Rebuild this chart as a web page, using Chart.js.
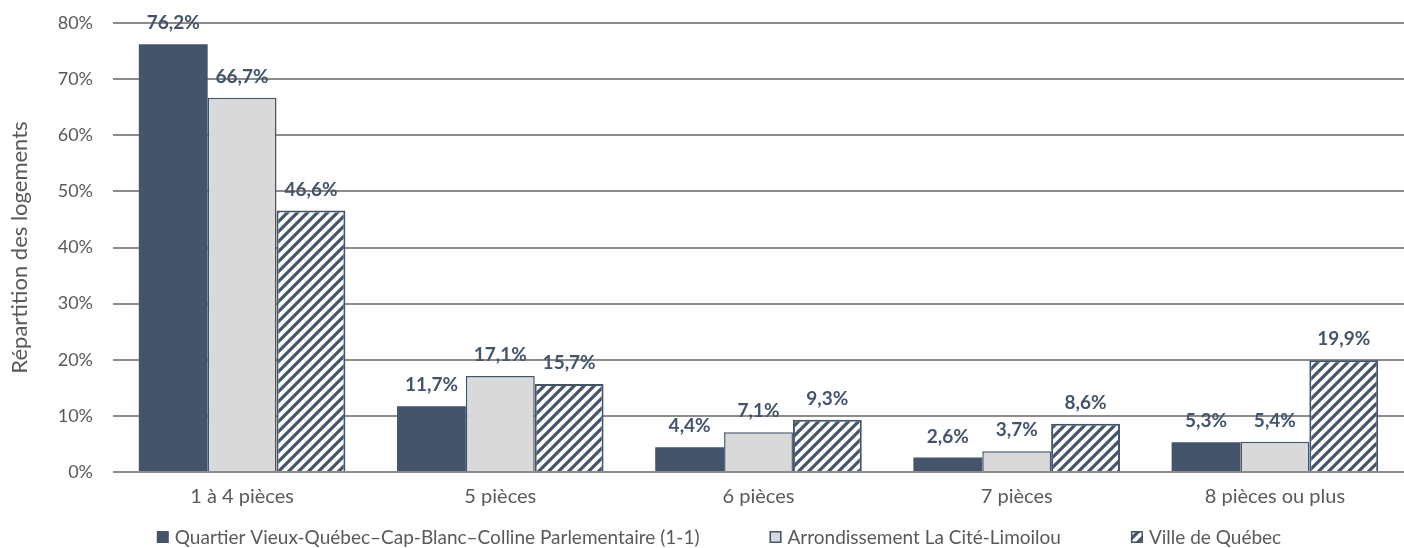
<!DOCTYPE html>
<html lang="fr">
<head>
<meta charset="utf-8">
<script src="https://cdn.jsdelivr.net/npm/chart.js@4.4.1/dist/chart.umd.min.js"></script>
<style>
  html, body { margin: 0; padding: 0; background: #fff; }
  .wrap { width: 1404px; height: 548px; position: relative; }
</style>
</head>
<body>
<div class="wrap"><canvas id="chart"></canvas></div>
<script>
// ---- data ----
const categories = ['1 à 4 pièces', '5 pièces', '6 pièces', '7 pièces', '8 pièces ou plus'];
const seriesNames = [
  'Quartier Vieux-Québec–Cap-Blanc–Colline Parlementaire (1-1)',
  'Arrondissement La Cité-Limoilou',
  'Ville de Québec',
];
const quartier = [76.2, 11.7, 4.4, 2.6, 5.3];
const arrondissement = [66.7, 17.1, 7.1, 3.7, 5.4];
const ville = [46.6, 15.7, 9.3, 8.6, 19.9];
const yTicks = [0, 10, 20, 30, 40, 50, 60, 70, 80];

const DARK = '#44546a';
const GREY = '#d9d9d9';
const TEXT = '#595959';
const FONT = 'Lato, "Open Sans", sans-serif';

// diagonal "/" hatch, dark on white
function hatch() {
  const s = 10;
  const c = document.createElement('canvas');
  c.width = s; c.height = s;
  const g = c.getContext('2d');
  g.fillStyle = '#fff';
  g.fillRect(0, 0, s, s);
  g.strokeStyle = DARK;
  g.lineWidth = 3.2;
  g.beginPath();
  g.moveTo(-2, s + 2); g.lineTo(s + 2, -2);
  g.moveTo(-2, 2); g.lineTo(2, -2);
  g.moveTo(s - 2, s + 2); g.lineTo(s + 2, s - 2);
  g.stroke();
  return g.createPattern(c, 'repeat');
}
const hatchFill = hatch();

const fmt = v => v.toFixed(1).replace('.', ',') + '%';

// value labels above every bar
const valueLabels = {
  id: 'valueLabels',
  afterDatasetsDraw(chart) {
    const ctx = chart.ctx;
    ctx.save();
    ctx.font = 'bold 19px ' + FONT;
    ctx.fillStyle = DARK;
    ctx.textAlign = 'center';
    ctx.textBaseline = 'middle';
    chart.data.datasets.forEach((ds, i) => {
      chart.getDatasetMeta(i).data.forEach((bar, j) => {
        ctx.fillText(fmt(ds.data[j]), bar.x, bar.y - 21);
      });
    });
    ctx.restore();
  },
};

// legend drawn by hand so the gap between entries can be wide
const bottomLegend = {
  id: 'bottomLegend',
  afterDraw(chart) {
    const ctx = chart.ctx;
    const box = 12, gapText = 6, gapItem = 70, y = 537;
    ctx.save();
    ctx.font = '19px ' + FONT;
    ctx.textBaseline = 'middle';
    const items = chart.data.datasets.map(ds => ({ ds, w: box + gapText + ctx.measureText(ds.label).width }));
    const total = items.reduce((a, it) => a + it.w, 0) + gapItem * (items.length - 1);
    let x = 719 - total / 2;
    items.forEach(({ ds, w }) => {
      ctx.fillStyle = ds.backgroundColor;
      ctx.fillRect(x, y - box / 2, box, box);
      if (ds.borderWidth) {
        ctx.strokeStyle = DARK;
        ctx.lineWidth = 1.5;
        ctx.strokeRect(x + 0.75, y - box / 2 + 0.75, box - 1.5, box - 1.5);
      }
      ctx.fillStyle = TEXT;
      ctx.fillText(ds.label, x + box + gapText, y + 1);
      x += w + gapItem;
    });
    ctx.restore();
  },
};

new Chart(document.getElementById('chart'), {
  type: 'bar',
  data: {
    labels: categories,
    datasets: [
      { label: seriesNames[0], data: quartier, backgroundColor: DARK, borderWidth: 0 },
      { label: seriesNames[1], data: arrondissement, backgroundColor: GREY, borderColor: DARK, borderWidth: 1.5 },
      { label: seriesNames[2], data: ville, backgroundColor: hatchFill, borderColor: DARK, borderWidth: 2 },
    ],
  },
  options: {
    responsive: true,
    maintainAspectRatio: false,
    animation: false,
    layout: { padding: { top: 23, right: 0, bottom: 34, left: 0 } },
    datasets: { bar: { categoryPercentage: 0.8, barPercentage: 1.0 } },
    plugins: {
      legend: { display: false },
      tooltip: { enabled: false },
    },
    scales: {
      x: {
        grid: { display: false },
        border: { display: false },
        ticks: { color: TEXT, font: { family: FONT, size: 20 }, padding: 5 },
      },
      y: {
        min: 0, max: 80,
        afterBuildTicks(scale) { scale.ticks = yTicks.map(v => ({ value: v })); },
        afterFit(scale) {
          scale.width = 113;
          scale.paddingTop = 0;
          scale.paddingBottom = 0;
        },
        grid: { color: '#8c8c8c', lineWidth: 2, drawTicks: false },
        border: { display: false },
        ticks: { color: TEXT, font: { family: FONT, size: 18 }, padding: 20, callback: v => v + '%' },
        title: {
          display: true,
          text: 'Répartition des logements',
          color: TEXT,
          font: { family: FONT, size: 22 },
          padding: { top: 7, bottom: 0 },
        },
      },
    },
  },
  plugins: [valueLabels, bottomLegend],
});
</script>
</body>
</html>
